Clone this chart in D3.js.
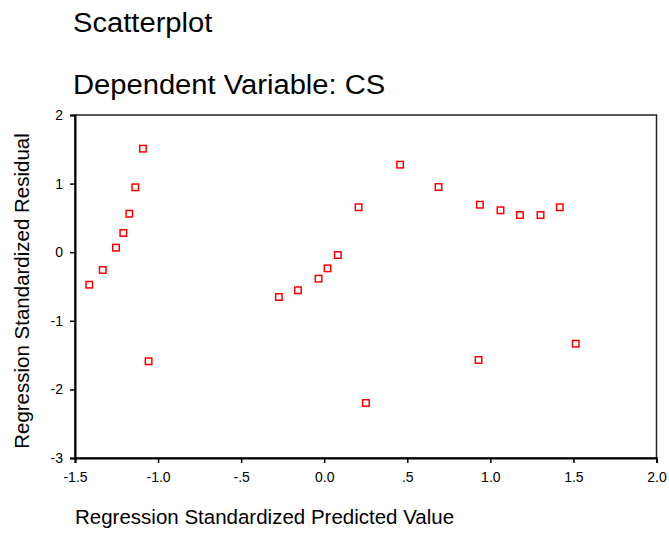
<html>
<head>
    <title>Scatterplot - Dependent Variable: CS</title>
    <style>
        body { margin: 0; background: white; }
        text { font-family: "Liberation Sans", Arial, sans-serif; fill: black; }
    </style>
    <script src="https://cdn.jsdelivr.net/npm/d3@7"></script>
</head>
<body>
<div id="chart"></div>
<script>
    // predicted value (x) and residual (y)
    var predicted = [-1.091, -1.137, -1.173, -1.209, -1.253, -1.333, -1.414, -1.057,
                     0.457, 0.688, 0.207, 0.082, 0.020, -0.034, -0.158, -0.273, 0.251,
                     0.937, 1.061, 1.178, 1.302, 1.418, 0.929, 1.514];
    var residual = [1.509, 0.946, 0.561, 0.280, 0.066, -0.259, -0.474, -1.590,
                    1.276, 0.950, 0.655, -0.041, -0.235, -0.386, -0.555, -0.653, -2.198,
                    0.692, 0.611, 0.542, 0.542, 0.655, -1.571, -1.334];

    var xTicks = [-1.5, -1.0, -0.5, 0.0, 0.5, 1.0, 1.5, 2.0];
    var xTickLabels = ['-1.5', '-1.0', '-.5', '0.0', '.5', '1.0', '1.5', '2.0'];
    var yTicks = [2, 1, 0, -1, -2, -3];
    var yTickLabels = ['2', '1', '0', '-1', '-2', '-3'];

    var W = 669, H = 539;
    var plotL = 75, plotR = 656.5, plotT = 115, plotB = 458;

    var svg = d3.select('#chart')
            .append('svg')
            .attr('width', W)
            .attr('height', H);

    var x = d3.scaleLinear().domain([-1.5, 2]).range([plotL, plotR]);
    var y = d3.scaleLinear().domain([-3, 2]).range([plotB, plotT]);

    // titles (a touch wider than plain Arial, like the original)
    var titles = svg.append('g')
            .attr('transform', 'translate(73,0) scale(1.08,1)');

    titles.append('text')
            .attr('y', 32)
            .style('font-size', '27px')
            .text('Scatterplot');

    titles.append('text')
            .attr('y', 94)
            .style('font-size', '27px')
            .text('Dependent Variable: CS');

    // frame
    svg.append('rect')
            .attr('x', plotL)
            .attr('y', plotT)
            .attr('width', plotR - plotL)
            .attr('height', plotB - plotT)
            .attr('fill', 'none')
            .attr('stroke', '#222')
            .attr('stroke-width', 1.5);

    var xAxis = d3.axisBottom(x)
            .tickValues(xTicks)
            .tickSize(5)
            .tickPadding(9)
            .tickFormat(function(d, i) { return xTickLabels[i]; });

    var yAxis = d3.axisLeft(y)
            .tickValues(yTicks)
            .tickSize(5)
            .tickPadding(7)
            .tickFormat(function(d, i) { return yTickLabels[i]; });

    var gx = svg.append('g')
            .attr('transform', 'translate(0,' + plotB + ')')
            .call(xAxis);

    var gy = svg.append('g')
            .attr('transform', 'translate(' + plotL + ',0)')
            .call(yAxis);

    [gx, gy].forEach(function(g) {
        g.attr('font-size', 14)
         .attr('font-family', '"Liberation Sans", Arial, sans-serif');
        g.select('.domain').attr('stroke', 'black').attr('stroke-width', 2);
        g.selectAll('.tick line').attr('stroke', 'black').attr('stroke-width', 1.5);
        g.selectAll('.tick text').attr('fill', 'black');
    });

    // axis titles
    svg.append('text')
            .attr('x', 75)
            .attr('y', 524)
            .style('font-size', '20.5px')
            .text('Regression Standardized Predicted Value');

    svg.append('text')
            .attr('transform', 'translate(29,291) rotate(-90)')
            .attr('text-anchor', 'middle')
            .style('font-size', '20.5px')
            .text('Regression Standardized Residual');

    // points
    var s = 6.5;
    svg.append('g')
            .selectAll('rect')
            .data(predicted)
            .enter().append('rect')
                .attr('x', function(d) { return x(d) - s / 2; })
                .attr('y', function(d, i) { return y(residual[i]) - s / 2; })
                .attr('width', s)
                .attr('height', s)
                .attr('fill', 'white')
                .attr('stroke', 'red')
                .attr('stroke-width', 1.5);
</script>
</body>
</html>
